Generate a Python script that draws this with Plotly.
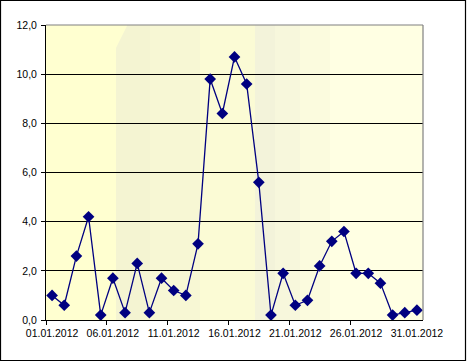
import plotly.graph_objects as go

dates = [f"{d:02d}.01.2012" for d in range(1, 32)]
values = [1.0, 0.6, 2.6, 4.2, 0.2, 1.7, 0.3, 2.3, 0.3, 1.7, 1.2, 1.0, 3.1,
          9.8, 8.4, 10.7, 9.6, 5.6, 0.2, 1.9, 0.6, 0.8, 2.2, 3.2, 3.6, 1.9,
          1.9, 1.5, 0.2, 0.3, 0.4]
y_ticks = [0, 2, 4, 6, 8, 10, 12]
y_labels = ["0,0", "2,0", "4,0", "6,0", "8,0", "10,0", "12,0"]

W, H = 467, 362
L, R, T, B = 46, 423, 25, 320
x_idx = list(range(len(dates)))
label_idx = x_idx[::5]

def px(x):
    return (x - L) / (R - L)

def py(y):
    return (B - y) / (B - T)

fig = go.Figure()
fig.add_trace(go.Scatter(
    x=x_idx, y=values, mode="lines+markers",
    line=dict(color="#000080", width=1.3),
    marker=dict(symbol="diamond", size=9, color="#000080"),
    hoverinfo="skip", showlegend=False,
))

shapes = []
bands = [
    (150, 200, "#F7F7D4"),
    (200, 255, "#FBFBD5"),
    (255, 275, "#F3F3DA"),
    (275, 300, "#F7F7DC"),
    (300, 330, "#FBFBDE"),
    (330, R, "#FFFFE3"),
]
for x0, x1, c in bands:
    shapes.append(dict(type="rect", xref="paper", yref="paper",
                       x0=px(x0), x1=px(x1), y0=0, y1=1,
                       fillcolor=c, line=dict(width=0), layer="below"))
shapes.append(dict(type="path", xref="paper", yref="paper",
                   path=f"M {px(116)} 0 L {px(116)} {py(48)} L {px(127)} {py(26)} L {px(127)} 1 L {px(150)} 1 L {px(150)} 0 Z",
                   fillcolor="#F4F4D2", line=dict(width=0), layer="below"))
shapes.append(dict(type="line", xref="paper", yref="paper", x0=0, x1=1, y0=1, y1=1,
                   line=dict(color="#808080", width=1.2)))
shapes.append(dict(type="line", xref="paper", yref="paper", x0=1, x1=1, y0=0, y1=1,
                   line=dict(color="#808080", width=1.2)))
shapes.append(dict(type="rect", xref="paper", yref="paper",
                   x0=px(0.5), x1=px(465.5), y0=py(360.5), y1=py(0.5),
                   line=dict(color="black", width=1.2), fillcolor="rgba(0,0,0,0)"))

font = dict(family="Liberation Sans, Arial, sans-serif", size=10.5, color="black")

fig.update_layout(
    width=W, height=H,
    margin=dict(l=L, r=W - R, t=T, b=H - B, pad=0),
    paper_bgcolor="white",
    plot_bgcolor="#FFFFD0",
    font=font,
    shapes=shapes,
    showlegend=False,
    xaxis=dict(
        range=[-0.5, len(dates) - 0.5],
        tickmode="array", tickvals=label_idx,
        ticktext=[dates[i] for i in label_idx],
        ticks="", showgrid=False, zeroline=False,
        showline=True, linecolor="black", linewidth=1,
        tickfont=font, ticklabelstandoff=3,
        minor=dict(tickmode="array",
                   tickvals=[i - 0.5 for i in label_idx if i < len(dates) - 1],
                   ticks="outside", ticklen=4, tickcolor="black", tickwidth=1,
                   showgrid=False),
    ),
    yaxis=dict(
        range=[0, 12], tickmode="array", tickvals=y_ticks, ticktext=y_labels,
        ticks="outside", ticklen=4, tickcolor="black", tickwidth=1,
        showgrid=True, gridcolor="black", gridwidth=1,
        zeroline=False, showline=True, linecolor="black", linewidth=1,
        tickfont=font, ticklabelstandoff=2,
    ),
)

fig.write_html("out.html")
